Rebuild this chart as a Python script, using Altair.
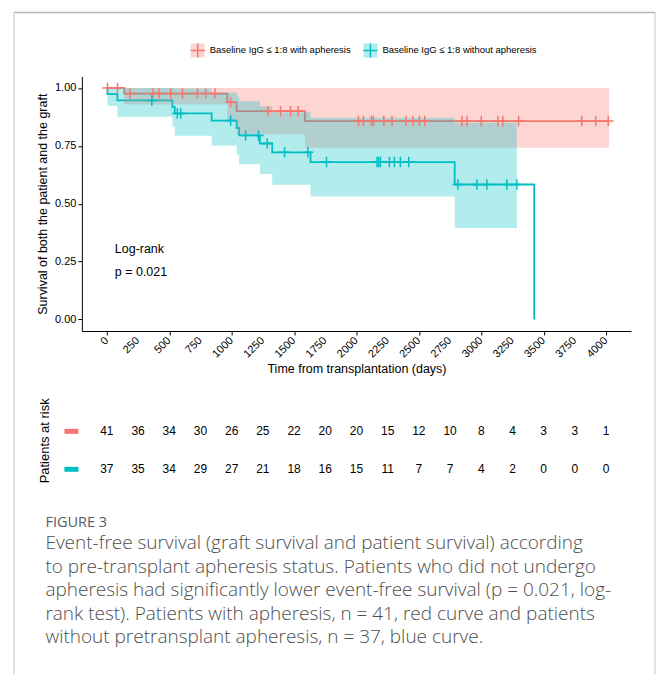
import altair as alt
import numpy as np
import pandas as pd

FONT = "Liberation Sans, Arial, Helvetica, sans-serif"
CAPTION_FONT = "Open Sans, Lato, sans-serif"

GROUPS = ["Baseline IgG ≤ 1:8 with apheresis", "Baseline IgG ≤ 1:8 without apheresis"]
KEYS = ["w", "wo"]
COLORS = ["#F8766D", "#00BFC4"]

# ---- Kaplan-Meier estimate, baseline IgG <= 1:8 with apheresis (n = 41)
with_times = [0, 139, 965, 1040, 1587, 4018]
with_surv = [1.0, 0.976, 0.938, 0.900, 0.857, 0.857]
with_band_times = [0, 139, 965, 1040, 1587, 4024]
with_lower = [1.0, 0.929, 0.856, 0.800, 0.742, 0.742]
with_upper = [1.0, 1.0, 1.0, 1.0, 1.0, 1.0]
with_censor = [5, 85, 186, 370, 418, 512, 606, 726, 792, 866, 992, 1293, 1392,
               1472, 1533, 2016, 2056, 2120, 2136, 2219, 2285, 2397, 2453, 2504,
               2547, 2845, 2885, 3000, 3133, 3173, 3299, 3805, 3917, 4018]

# ---- Kaplan-Meier estimate, baseline IgG <= 1:8 without apheresis (n = 37)
without_times = [0, 5, 85, 525, 544, 840, 1040, 1060, 1226, 1325, 1632, 2787, 3424]
without_surv = [1.0, 0.973, 0.946, 0.918, 0.890, 0.859, 0.827, 0.795, 0.760,
                0.722, 0.680, 0.583, 0.0]
without_band_times = [0, 5, 85, 525, 544, 840, 1040, 1060, 1226, 1325, 1632, 2787, 3285]
without_lower = [1.0, 0.922, 0.876, 0.833, 0.794, 0.752, 0.711, 0.670, 0.628,
                 0.582, 0.531, 0.395, 0.395]
without_upper = [1.0, 1.0, 1.0, 1.0, 0.998, 0.980, 0.963, 0.943, 0.920, 0.895,
                 0.871, 0.850, 0.850]
without_censor = [360, 565, 592, 992, 1112, 1215, 1285, 1424, 1611, 1760, 2165,
                  2178, 2192, 2264, 2304, 2352, 2419, 2813, 2965, 3045, 3205, 3285]

# ---- number at risk table
risk_times = list(range(0, 4001, 250))
risk_with = [41, 36, 34, 30, 26, 25, 22, 20, 20, 15, 12, 10, 8, 4, 3, 3, 1]
risk_without = [37, 35, 34, 29, 27, 21, 18, 16, 15, 11, 7, 7, 4, 2, 0, 0, 0]

caption_lines = [
    "Event-free survival (graft survival and patient survival) according",
    "to pre-transplant apheresis status. Patients who did not undergo",
    "apheresis had significantly lower event-free survival (p = 0.021, log-",
    "rank test). Patients with apheresis, n = 41, red curve and patients",
    "without pretransplant apheresis, n = 37, blue curve.",
]


def level_at(times, surv, t):
    idx = np.searchsorted(np.asarray(times), np.asarray(t), side="right") - 1
    return np.asarray(surv)[idx]


lines_df = pd.concat([
    pd.DataFrame({"time": with_times, "surv": with_surv, "key": KEYS[0]}),
    pd.DataFrame({"time": without_times, "surv": without_surv, "key": KEYS[1]}),
])
bands_df = pd.concat([
    pd.DataFrame({"time": with_band_times, "lower": with_lower, "upper": with_upper, "grp": GROUPS[0]}),
    pd.DataFrame({"time": without_band_times, "lower": without_lower, "upper": without_upper, "grp": GROUPS[1]}),
])
censor_df = pd.concat([
    pd.DataFrame({"time": with_censor, "surv": level_at(with_times, with_surv, with_censor), "key": KEYS[0]}),
    pd.DataFrame({"time": without_censor, "surv": level_at(without_times, without_surv, without_censor), "key": KEYS[1]}),
])
risk_df = pd.DataFrame({"time": risk_times, "n_with": risk_with, "n_without": risk_without})
one = pd.DataFrame({"k": [0]})

xscale = alt.Scale(domain=[-200, 4200], nice=False, zero=False)
yscale = alt.Scale(domain=[-0.05, 1.05], nice=False, zero=False)

# x tick labels are drawn as a rotated text layer below the axis
x_axis = alt.Axis(values=risk_times, labels=False,
                  title="Time from transplantation (days)", titlePadding=27)
x_enc = alt.X("time:Q", scale=xscale, axis=x_axis)
y_axis = alt.Axis(values=[0, 0.25, 0.5, 0.75, 1.0], format=".2f",
                  title="Survival of both the patient and the graft", titlePadding=5)

LEG_X, LEG_Y = 108, -34
legend_common = dict(title=None, orient="none", legendX=LEG_X, legendY=LEG_Y, direction="horizontal",
                     symbolSize=196, symbolStrokeWidth=1.5, labelFont=FONT, labelFontSize=9.5,
                     labelColor="black", labelOffset=4, columnPadding=9, padding=0)

label_expr = "datum.label == 'w' ? '%s' : '%s'" % (GROUPS[0], GROUPS[1])

lines = alt.Chart(lines_df).mark_line(interpolate="step-after", strokeWidth=1.8).encode(
    x=x_enc,
    y=alt.Y("surv:Q", scale=yscale, axis=y_axis),
    stroke=alt.Stroke("key:N", scale=alt.Scale(domain=KEYS, range=COLORS),
                      legend=alt.Legend(symbolType="M-1,0H1M0,-1V1", labelExpr=label_expr,
                                        labelOpacity=0, **legend_common)),
)

bands = alt.Chart(bands_df).mark_area(interpolate="step-after", opacity=0.3).encode(
    x=alt.X("time:Q", scale=xscale, axis=x_axis),
    y=alt.Y("lower:Q", scale=yscale, axis=y_axis),
    y2="upper:Q",
    fill=alt.Fill("grp:N", scale=alt.Scale(domain=GROUPS, range=COLORS),
                  legend=alt.Legend(symbolType="square", symbolOpacity=0.3,
                                    symbolStrokeColor="transparent", **legend_common)),
)

censor = alt.Chart(censor_df).mark_point(shape="M-1,0H1M0,-1V1", size=110, filled=False,
                                         strokeWidth=1.5, opacity=1).encode(
    x=alt.X("time:Q", scale=xscale, axis=x_axis),
    y=alt.Y("surv:Q", scale=yscale, axis=y_axis),
    stroke=alt.Stroke("key:N", scale=alt.Scale(domain=KEYS, range=COLORS), legend=None),
)

tick_labels = alt.Chart(risk_df).mark_text(angle=315, align="right", baseline="middle",
                                           font=FONT, fontSize=11, color="black").encode(
    x=alt.X("time:Q", scale=xscale, axis=x_axis), y=alt.value(263),
    text=alt.Text("time:Q", format="d"))

logrank = alt.Chart(one).mark_text(align="left", baseline="middle", font=FONT, fontSize=12.5,
                                   color="black").encode(
    x=alt.datum(64), y=alt.datum(0.303), text=alt.value("Log-rank"))
pval = alt.Chart(one).mark_text(align="left", baseline="middle", font=FONT, fontSize=12.5,
                                color="black").encode(
    x=alt.datum(64), y=alt.datum(0.203), text=alt.value("p = 0.021"))

# number-at-risk rows, placed on the same time scale
risk_w = alt.Chart(risk_df).mark_text(font=FONT, fontSize=12, color="black", baseline="middle").encode(
    x=alt.X("time:Q", scale=xscale, axis=x_axis), y=alt.value(355.5), text="n_with:Q")
risk_wo = alt.Chart(risk_df).mark_text(font=FONT, fontSize=12, color="black", baseline="middle").encode(
    x=alt.X("time:Q", scale=xscale, axis=x_axis), y=alt.value(393.5), text="n_without:Q")
dash_w = alt.Chart(one).mark_rect(color=COLORS[0]).encode(
    x=alt.value(-17.5), x2=alt.value(-3.5), y=alt.value(353), y2=alt.value(358))
dash_wo = alt.Chart(one).mark_rect(color=COLORS[1]).encode(
    x=alt.value(-17.5), x2=alt.value(-3.5), y=alt.value(391), y2=alt.value(396))
risk_title = alt.Chart(one).mark_text(angle=270, font=FONT, fontSize=13, color="black",
                                      baseline="middle", align="center").encode(
    x=alt.value(-36.5), y=alt.value(365), text=alt.value("Patients at risk"))

# figure caption
fig_label = alt.Chart(one).mark_text(align="left", baseline="alphabetic", font=CAPTION_FONT,
                                     fontSize=14.5, color="#5a5a68").encode(
    x=alt.value(-36.5), y=alt.value(451.5), text=alt.value("FIGURE 3"))
caption = alt.Chart(one).mark_text(align="left", baseline="alphabetic", font=CAPTION_FONT,
                                   fontSize=19, fontWeight=300, color="#4e4e4e",
                                   lineHeight=23.5).encode(
    x=alt.value(-36.5), y=alt.value(473.5), text=alt.value(caption_lines))

# figure frame (top, left, right edges)
frame_top = alt.Chart(one).mark_rule(color="#b4b4bc", strokeWidth=1.5).encode(
    x=alt.value(-68), x2=alt.value(574), y=alt.value(-64))
frame_left = alt.Chart(one).mark_rule(color="#c4c4c8", strokeWidth=1).encode(
    x=alt.value(-68), y=alt.value(-64), y2=alt.value(599))
frame_right = alt.Chart(one).mark_rule(color="#c4c4c8", strokeWidth=1).encode(
    x=alt.value(574), y=alt.value(-64), y2=alt.value(599))

chart = alt.layer(
    lines, bands, censor, tick_labels, logrank, pval,
    risk_w, risk_wo, dash_w, dash_wo, risk_title,
    fig_label, caption, frame_top, frame_left, frame_right,
).resolve_legend(
    fill="independent", stroke="independent"
).properties(
    width=550, height=255,
    padding={"left": 13, "top": 11, "right": 0, "bottom": 0},
    background="white",
).configure_view(stroke=None).configure_axis(
    grid=False, domainColor="black", domainWidth=1, tickColor="black", tickSize=4,
    labelColor="black", labelFont=FONT, labelFontSize=11,
    titleColor="black", titleFont=FONT, titleFontSize=12.5, titleFontWeight="normal",
)

chart.save("out.html", embed_options={"renderer": "svg", "actions": False})
